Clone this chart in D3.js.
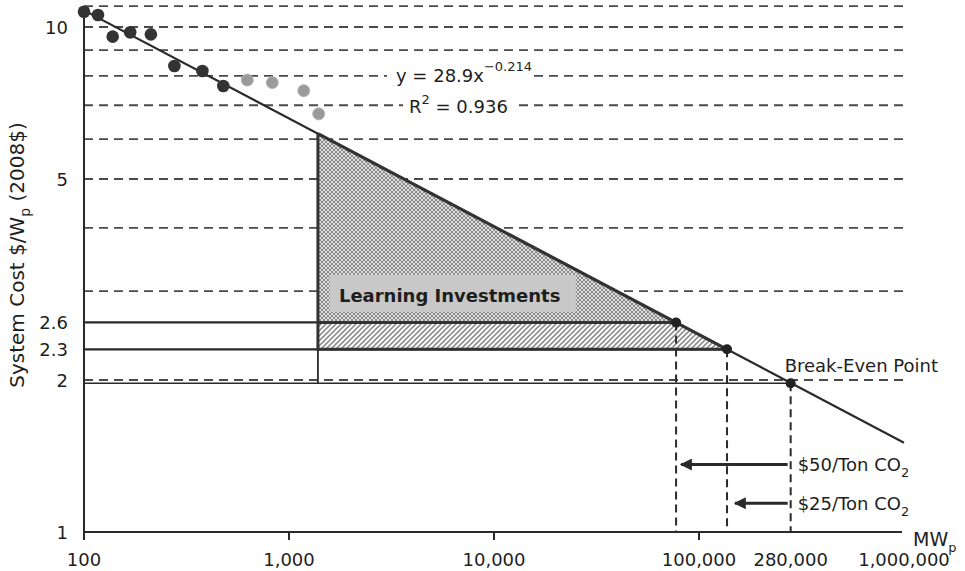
<!DOCTYPE html>
<html>
<head>
<meta charset="utf-8">
<script src="https://cdn.jsdelivr.net/npm/d3@7"></script>
<style>
  body { margin: 0; background: #fff; }
  svg { font-family: "DejaVu Sans", "Liberation Sans", Arial, sans-serif; }
</style>
</head>
<body>
<svg id="chart" width="965" height="571"></svg>
<script>
// cumulative installed capacity (MWp) and system cost ($/Wp, 2008$)
var histX = [100, 117, 138, 168, 212, 276, 378, 478];
var histY = [10.72, 10.56, 9.57, 9.76, 9.67, 8.37, 8.18, 7.64];
var recentX = [626, 829, 1180, 1396];
var recentY = [7.85, 7.76, 7.48, 6.73];

// fitted learning curve y = a * x^b
var fitA = 28.9;
var fitB = -0.214;

var xTicks = [100, 1000, 10000, 100000, 280000, 1000000];
var xTickMarks = [100, 1000, 10000, 100000];
var yTicks = [1, 2, 2.3, 2.6, 5, 10];
var gridLevels = [2, 3, 4, 5, 6, 7, 8, 9, 10, 11];

// learning investment region and target points
var learnStart = 1384;
var targetX = [77300, 137000, 280000];
var targetY = [2.6, 2.3, 1.97];
var carbonLabels = ["$50/Ton CO", "$25/Ton CO"];
var carbonX = [77300, 137000];
var carbonY = [1.36, 1.14];

var svg = d3.select("#chart");

var x = d3.scaleLog().domain([100, 1000000]).range([84, 904]);
var y = d3.scaleLog().domain([1, 10]).range([532, 27]);

var fit = function (v) {
  return fitA * Math.pow(v, fitB);
};

var ink = "#2a2a2a";
var textInk = "#1e1e1e";

// hatch patterns
var defs = svg.append("defs");
var cross = defs
  .append("pattern")
  .attr("id", "cross")
  .attr("patternUnits", "userSpaceOnUse")
  .attr("width", 4)
  .attr("height", 4);
cross.append("rect").attr("width", 4).attr("height", 4).attr("fill", "#fff");
cross
  .append("path")
  .attr("d", "M-1,1L1,-1M0,4L4,0M3,5L5,3M-1,3L1,5M0,0L4,4M3,-1L5,1")
  .attr("stroke", "#858585")
  .attr("stroke-width", 1.1);

var diag = defs
  .append("pattern")
  .attr("id", "diag")
  .attr("patternUnits", "userSpaceOnUse")
  .attr("width", 5)
  .attr("height", 5);
diag.append("rect").attr("width", 5).attr("height", 5).attr("fill", "#fff");
diag
  .append("path")
  .attr("d", "M0,5L5,0M-1,1L1,-1M4,6L6,4")
  .attr("stroke", "#8f8f8f")
  .attr("stroke-width", 1.6);

var arrow = defs
  .append("marker")
  .attr("id", "arrow")
  .attr("viewBox", "0 0 10 10")
  .attr("refX", 9)
  .attr("refY", 5)
  .attr("markerWidth", 4.5)
  .attr("markerHeight", 4)
  .attr("orient", "auto");
arrow.append("path").attr("d", "M0,0L10,5L0,10Z").attr("fill", ink);

// dashed gridlines
svg
  .append("g")
  .selectAll("line")
  .data(gridLevels)
  .enter()
  .append("line")
  .attr("x1", x(100))
  .attr("x2", x(1000000))
  .attr("y1", function (d) {
    return y(d);
  })
  .attr("y2", function (d) {
    return y(d);
  })
  .attr("stroke", "#4a4a4a")
  .attr("stroke-width", 1.8)
  .attr("stroke-dasharray", "9,6");

// hatched learning investment areas
var line = d3
  .line()
  .x(function (d) {
    return x(d[0]);
  })
  .y(function (d) {
    return y(d[1]);
  });

svg
  .append("path")
  .attr(
    "d",
    line([
      [learnStart, fit(learnStart)],
      [targetX[0], targetY[0]],
      [learnStart, targetY[0]],
    ]) + "Z"
  )
  .attr("fill", "url(#cross)");

svg
  .append("path")
  .attr(
    "d",
    line([
      [learnStart, targetY[0]],
      [targetX[0], targetY[0]],
      [targetX[1], targetY[1]],
      [learnStart, targetY[1]],
    ]) + "Z"
  )
  .attr("fill", "url(#diag)");

// label box
svg
  .append("rect")
  .attr("x", x(learnStart) + 12)
  .attr("y", 275)
  .attr("width", 246)
  .attr("height", 37)
  .attr("fill", "#c8c8c8");
svg
  .append("text")
  .attr("x", x(learnStart) + 21)
  .attr("y", 302)
  .attr("font-size", 18)
  .attr("font-weight", "bold")
  .attr("fill", textInk)
  .text("Learning Investments");

// solid cost levels from the axis to the curve
svg
  .append("g")
  .selectAll("line")
  .data(targetX)
  .enter()
  .append("line")
  .attr("x1", x(100))
  .attr("x2", function (d) {
    return x(d);
  })
  .attr("y1", function (d, i) {
    return y(targetY[i]);
  })
  .attr("y2", function (d, i) {
    return y(targetY[i]);
  })
  .attr("stroke", ink)
  .attr("stroke-width", function (d, i) {
    return i === 2 ? 1.6 : 2.2;
  });

// thicker edges of the investment area
svg
  .append("path")
  .attr(
    "d",
    line([
      [learnStart, fit(learnStart)],
      [learnStart, targetY[1]],
      [targetX[1], targetY[1]],
    ]) +
      line([
        [learnStart, targetY[0]],
        [targetX[0], targetY[0]],
      ])
  )
  .attr("fill", "none")
  .attr("stroke", "#333")
  .attr("stroke-width", 3);

svg
  .append("line")
  .attr("x1", x(learnStart))
  .attr("x2", x(learnStart))
  .attr("y1", y(targetY[1]))
  .attr("y2", y(targetY[2]))
  .attr("stroke", ink)
  .attr("stroke-width", 1.8);

// dashed drops to the x axis
svg
  .append("g")
  .selectAll("line")
  .data(targetX)
  .enter()
  .append("line")
  .attr("x1", function (d) {
    return x(d);
  })
  .attr("x2", function (d) {
    return x(d);
  })
  .attr("y1", function (d, i) {
    return y(targetY[i]);
  })
  .attr("y2", y(1))
  .attr("stroke", ink)
  .attr("stroke-width", 2)
  .attr("stroke-dasharray", "8,5");

// learning curve fit
svg
  .append("path")
  .attr(
    "d",
    line([
      [100, fit(100)],
      [1000000, fit(1000000)],
    ])
  )
  .attr("stroke", ink)
  .attr("stroke-width", 2.2)
  .attr("fill", "none");

svg
  .append("path")
  .attr(
    "d",
    line([
      [learnStart, fit(learnStart)],
      [targetX[1], fit(targetX[1])],
    ])
  )
  .attr("stroke", "#333")
  .attr("stroke-width", 3.2)
  .attr("fill", "none");

// axes
svg
  .append("line")
  .attr("x1", x(100))
  .attr("x2", x(100))
  .attr("y1", y(10.9))
  .attr("y2", y(1) + 7)
  .attr("stroke", ink)
  .attr("stroke-width", 2);
svg
  .append("line")
  .attr("x1", x(100))
  .attr("x2", x(1000000) - 2)
  .attr("y1", y(1))
  .attr("y2", y(1))
  .attr("stroke", ink)
  .attr("stroke-width", 2);

svg
  .append("g")
  .selectAll("line")
  .data(xTickMarks)
  .enter()
  .append("line")
  .attr("x1", function (d) {
    return x(d);
  })
  .attr("x2", function (d) {
    return x(d);
  })
  .attr("y1", y(1))
  .attr("y2", y(1) + 8)
  .attr("stroke", ink)
  .attr("stroke-width", 2);

svg
  .append("g")
  .selectAll("text")
  .data(xTicks)
  .enter()
  .append("text")
  .attr("x", function (d) {
    return x(d);
  })
  .attr("y", y(1) + 34)
  .attr("text-anchor", "middle")
  .attr("font-size", 18)
  .attr("fill", textInk)
  .text(function (d) {
    return d3.format(",")(d);
  });

svg
  .append("g")
  .selectAll("text")
  .data(yTicks)
  .enter()
  .append("text")
  .attr("x", 68)
  .attr("y", function (d) {
    return y(d);
  })
  .attr("dy", "0.38em")
  .attr("text-anchor", "end")
  .attr("font-size", 18)
  .attr("fill", textInk)
  .text(function (d) {
    return d;
  });

// axis titles
var xTitle = svg
  .append("text")
  .attr("x", 913)
  .attr("y", 546)
  .attr("font-size", 19)
  .attr("fill", textInk)
  .text("MW");
xTitle.append("tspan").attr("font-size", 13).attr("dy", 6).text("p");

var yTitle = svg
  .append("text")
  .attr("transform", "translate(24,255) rotate(-90)")
  .attr("text-anchor", "middle")
  .attr("font-size", 20)
  .attr("fill", textInk)
  .text("System Cost $/W");
yTitle.append("tspan").attr("font-size", 14).attr("dy", 6).text("p");
yTitle.append("tspan").attr("dy", -6).text(" (2008$)");

// data points
svg
  .append("g")
  .selectAll("circle")
  .data(recentX)
  .enter()
  .append("circle")
  .attr("cx", function (d) {
    return x(d);
  })
  .attr("cy", function (d, i) {
    return y(recentY[i]);
  })
  .attr("r", 6)
  .attr("fill", "#9a9a9a")
  .attr("stroke", "#b5b5b5")
  .attr("stroke-width", 1);

svg
  .append("g")
  .selectAll("circle")
  .data(histX)
  .enter()
  .append("circle")
  .attr("cx", function (d) {
    return x(d);
  })
  .attr("cy", function (d, i) {
    return y(histY[i]);
  })
  .attr("r", 6.3)
  .attr("fill", "#333");

svg
  .append("g")
  .selectAll("circle")
  .data(targetX)
  .enter()
  .append("circle")
  .attr("cx", function (d) {
    return x(d);
  })
  .attr("cy", function (d, i) {
    return y(targetY[i]);
  })
  .attr("r", 5)
  .attr("fill", "#222");

// carbon price arrows
svg
  .append("g")
  .selectAll("line")
  .data(carbonX)
  .enter()
  .append("line")
  .attr("x1", x(targetX[2]) - 3)
  .attr("x2", function (d, i) {
    return x(d) + 5 + i * 3;
  })
  .attr("y1", function (d, i) {
    return y(carbonY[i]);
  })
  .attr("y2", function (d, i) {
    return y(carbonY[i]);
  })
  .attr("stroke", ink)
  .attr("stroke-width", 3)
  .attr("marker-end", "url(#arrow)");

var carbonText = svg
  .append("g")
  .selectAll("text")
  .data(carbonLabels)
  .enter()
  .append("text")
  .attr("x", x(targetX[2]) + 7)
  .attr("y", function (d, i) {
    return y(carbonY[i]);
  })
  .attr("dy", "0.35em")
  .attr("font-size", 18)
  .attr("fill", textInk)
  .text(function (d) {
    return d;
  });
carbonText.append("tspan").attr("font-size", 13).attr("dy", 6).text("2");

svg
  .append("text")
  .attr("x", x(targetX[2]) - 6)
  .attr("y", y(targetY[2]) - 11)
  .attr("font-size", 18)
  .attr("fill", textInk)
  .text("Break-Even Point");

// fit equation, on white so the gridlines break around it
svg
  .append("rect")
  .attr("x", 387)
  .attr("y", 62)
  .attr("width", 146)
  .attr("height", 26)
  .attr("fill", "#fff");
svg
  .append("rect")
  .attr("x", 403)
  .attr("y", 94)
  .attr("width", 111)
  .attr("height", 24)
  .attr("fill", "#fff");

var eq = svg
  .append("text")
  .attr("x", 396)
  .attr("y", 82)
  .attr("font-size", 18)
  .attr("fill", textInk)
  .text("y = 28.9x");
eq.append("tspan").attr("font-size", 13).attr("dy", -11).text("\u22120.214");

var r2 = svg
  .append("text")
  .attr("x", 409)
  .attr("y", 113)
  .attr("font-size", 18)
  .attr("fill", textInk)
  .text("R");
r2.append("tspan").attr("font-size", 13).attr("dy", -9).text("2");
r2.append("tspan").attr("dy", 9).text(" = 0.936");
</script>
</body>
</html>
